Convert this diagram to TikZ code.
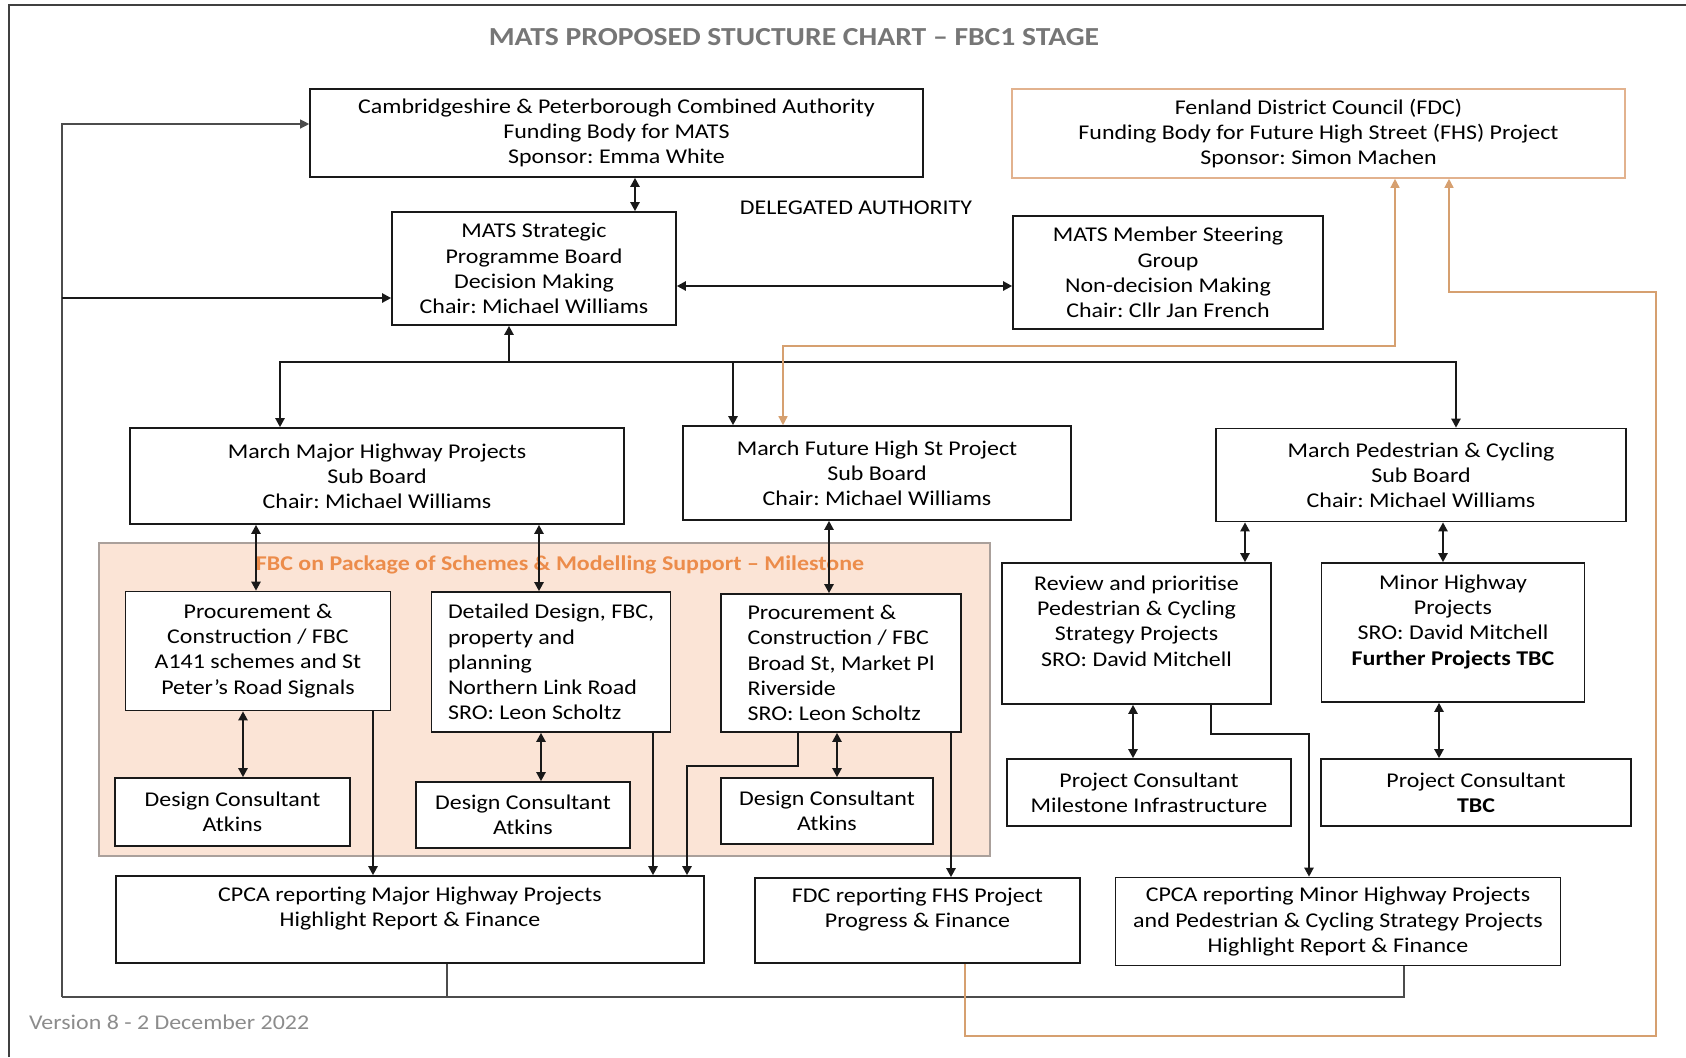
\documentclass[tikz,border=0pt]{standalone}
\usepackage{fontspec}
\setmainfont{Carlito}[FakeStretch=1.14]
\frenchspacing
\usetikzlibrary{arrows.meta}
\definecolor{titlegray}{RGB}{118,118,118}
\definecolor{versiongray}{RGB}{140,140,140}
\definecolor{fdcedge}{RGB}{226,178,142}
\definecolor{fhsline}{RGB}{214,160,112}
\definecolor{fbcfill}{RGB}{251,228,214}
\definecolor{fbcedge}{RGB}{170,160,155}
\definecolor{fbctext}{RGB}{236,140,75}

\begin{document}
\begin{tikzpicture}[x=.5pt,y=-.5pt,font=\fontsize{10.5}{12.6}\selectfont,
  box/.style={draw=black!90,line width=.8pt,fill=white,align=center,inner sep=2pt},
  sz/.style 2 args={minimum width=#1*.5pt,minimum height=#2*.5pt},
  arrowto/.style={-{Triangle[length=4.5pt,width=4.5pt]}},
  arrowboth/.style={{Triangle[length=4.5pt,width=4.5pt]}-{Triangle[length=4.5pt,width=4.5pt]}},
  link/.style={line width=1.1pt,black!90},
  feed/.style={line width=.6pt,black!70},
  fhs/.style={line width=.7pt,fhsline}]
\useasboundingbox (0,0) rectangle (1686,1057);
\draw[black!75,line width=.8pt] (9,1057) -- (9,5) -- (1686,5);

\node[font=\fontsize{13}{15}\selectfont\bfseries,text=titlegray] (title) at (794,37) {MATS PROPOSED STUCTURE CHART -- FBC1 STAGE};
\node (delegated) at (856,208) {DELEGATED AUTHORITY};
\node[text=versiongray,anchor=west] (version) at (22,1022) {Version 8 - 2 December 2022};

\node[draw=fbcedge,line width=.8pt,fill=fbcfill,sz={891}{313}] (fbcarea) at (544.5,699.5) {};
\node[font=\fontsize{10.5}{12.6}\selectfont\bfseries,text=fbctext] (fbctitle) at (560,565) {FBC on Package of Schemes \& Modelling Support -- Milestone};

\node[box,sz={613}{88}] (cpca) at (616.5,133) {Cambridgeshire \& Peterborough Combined Authority\\Funding Body for MATS\\Sponsor: Emma White};
\node[box,draw=fdcedge,sz={613}{89}] (fdc) at (1318.5,133.5) {Fenland District Council (FDC)\\Funding Body for Future High Street (FHS) Project\\Sponsor: Simon Machen};
\node[box,sz={284}{113}] (spb) at (534,268.5) {MATS Strategic\\Programme Board\\Decision Making\\Chair: Michael Williams};
\node[box,sz={310}{113}] (msg) at (1168,272.5) {MATS Member Steering\\Group\\Non-decision Making\\Chair: Cllr Jan French};

\node[box,sz={494}{96}] (majsub) at (377,476) {March Major Highway Projects\\Sub Board\\Chair: Michael Williams};
\node[box,sz={388}{94}] (fhssub) at (877,473) {March Future High St Project\\Sub Board\\Chair: Michael Williams};
\node[box,sz={410}{93}] (pcsub) at (1421,475) {March Pedestrian \& Cycling\\Sub Board\\Chair: Michael Williams};

\node[box,sz={265}{119}] (proc1) at (258,651) {Procurement \&\\Construction / FBC\\A141 schemes and St\\Peter’s Road Signals};
\node[box,align=left,sz={239}{140}] (dd) at (551,662) {Detailed Design, FBC,\\property and\\planning\\Northern Link Road\\SRO: Leon Scholtz};
\node[box,align=left,sz={240}{138}] (proc3) at (841,663) {Procurement \&\\Construction / FBC\\Broad St, Market Pl\\Riverside\\SRO: Leon Scholtz};
\node[box,sz={235}{68}] (dc1) at (232.5,812) {Design Consultant\\Atkins};
\node[box,sz={214}{66}] (dc2) at (523,815) {Design Consultant\\Atkins};
\node[box,sz={212}{66}] (dc3) at (827,811) {Design Consultant\\Atkins};

\node[box,sz={269}{141}] (review) at (1136.5,633.5) {Review and prioritise\\Pedestrian \& Cycling\\Strategy Projects\\SRO: David Mitchell\\ \mbox{}};
\node[box,sz={263}{139}] (minor) at (1453,632.5) {Minor Highway\\Projects\\SRO: David Mitchell\\\textbf{Further Projects TBC}\\ \mbox{}};
\node[box,sz={284}{67}] (pcm) at (1149,792.5) {Project Consultant\\Milestone Infrastructure};
\node[box,sz={310}{67}] (pct) at (1476,792.5) {Project Consultant\\\textbf{TBC}};

\node[box,sz={588}{87}] (rmaj) at (410,919.5) {CPCA reporting Major Highway Projects\\Highlight Report \& Finance\\ \mbox{}};
\node[box,sz={325}{85}] (rfdc) at (917.5,920.5) {FDC reporting FHS Project\\Progress \& Finance\\ \mbox{}};
\node[box,sz={445}{88}] (rmin) at (1338,921.5) {CPCA reporting Minor Highway Projects\\and Pedestrian \& Cycling Strategy Projects\\Highlight Report \& Finance};

\coordinate (loop) at (62,997);
\coordinate (bus) at (509,362);

\draw[feed] (rmaj.south -| 447,0) |- (loop);
\draw[feed] (rmin.south -| 1404,0) |- (loop);
\draw[feed,arrowto] (loop) |- (cpca.west |- 0,124);
\draw[link,arrowto] (62,298) -- (spb.west |- 0,298);

\draw[link,arrowboth] (cpca.south -| 635,0) -- (spb.north -| 635,0);
\draw[link,arrowboth] (spb.east |- 0,286) -- (msg.west |- 0,286);

\draw[link,arrowto] (bus) -- (spb.south -| bus);
\draw[link,arrowto] (bus) -| (majsub.north -| 280,0);
\draw[link,arrowto] (bus) -| (fhssub.north -| 733,0);
\draw[link,arrowto] (bus) -| (pcsub.north -| 1456,0);

\draw[fhs,arrowboth] (fdc.south -| 1395,0) |- (783,346) -- (fhssub.north -| 783,0);
\draw[fhs,arrowto] (rfdc.south -| 965,0) |- (1656,1036) |- (1449,292) -- (fdc.south -| 1449,0);

\draw[link,arrowboth] (majsub.south -| 256,0) -- (proc1.north -| 256,0);
\draw[link,arrowboth] (majsub.south -| 539,0) -- (dd.north -| 539,0);
\draw[link,arrowboth] (fhssub.south -| 829,0) -- (proc3.north -| 829,0);
\draw[link,arrowboth] (proc1.south -| 243,0) -- (dc1.north -| 243,0);
\draw[link,arrowboth] (dd.south -| 541,0) -- (dc2.north -| 541,0);
\draw[link,arrowboth] (proc3.south -| 837,0) -- (dc3.north -| 837,0);

\draw[link,arrowto] (proc1.south -| 373,0) -- (rmaj.north -| 373,0);
\draw[link,arrowto] (dd.south -| 653,0) -- (rmaj.north -| 653,0);
\draw[link,arrowto] (proc3.south -| 798,0) |- (687,766) -- (rmaj.north -| 687,0);
\draw[link,arrowto] (proc3.south -| 951,0) -- (rfdc.north -| 951,0);

\draw[link,arrowboth] (pcsub.south -| 1245,0) -- (review.north -| 1245,0);
\draw[link,arrowboth] (pcsub.south -| 1443,0) -- (minor.north -| 1443,0);
\draw[link,arrowboth] (review.south -| 1133,0) -- (pcm.north -| 1133,0);
\draw[link,arrowboth] (minor.south -| 1439,0) -- (pct.north -| 1439,0);
\draw[link,arrowto] (review.south -| 1211,0) |- (1309,734) -- (rmin.north -| 1309,0);
\end{tikzpicture}
\end{document}
